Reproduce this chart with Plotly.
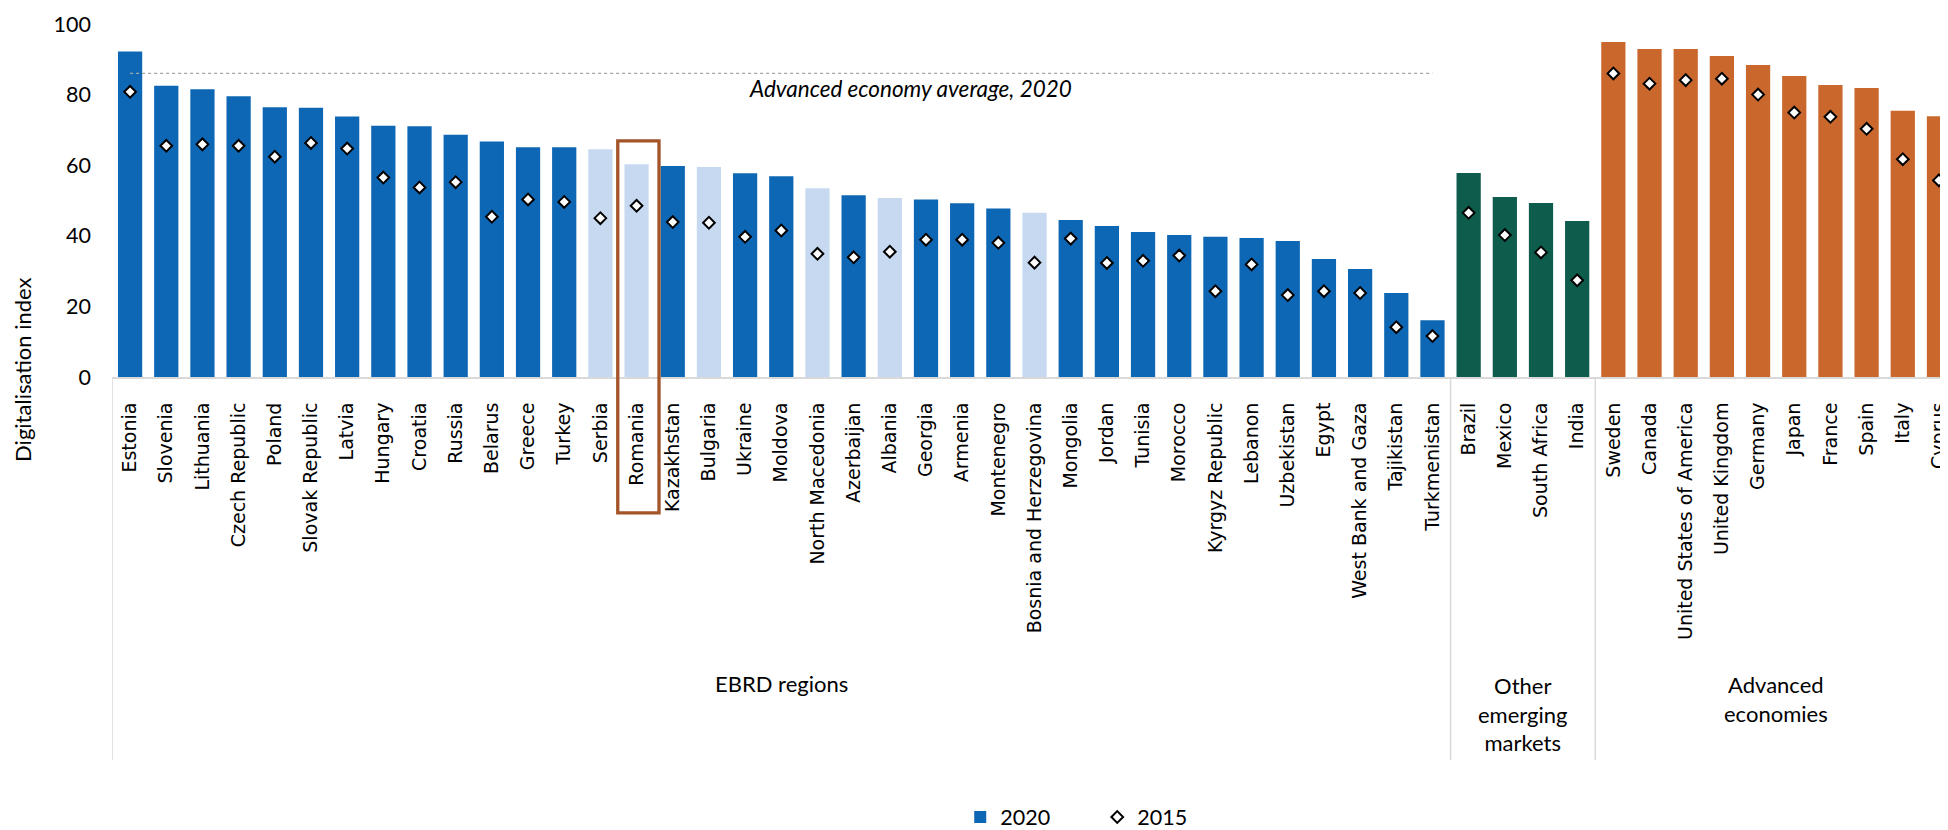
import plotly.graph_objects as go

countries = [
    "Estonia", "Slovenia", "Lithuania", "Czech Republic", "Poland",
    "Slovak Republic", "Latvia", "Hungary", "Croatia", "Russia", "Belarus",
    "Greece", "Turkey", "Serbia", "Romania", "Kazakhstan", "Bulgaria",
    "Ukraine", "Moldova", "North Macedonia", "Azerbaijan", "Albania",
    "Georgia", "Armenia", "Montenegro", "Bosnia and Herzegovina", "Mongolia",
    "Jordan", "Tunisia", "Morocco", "Kyrgyz Republic", "Lebanon", "Uzbekistan",
    "Egypt", "West Bank and Gaza", "Tajikistan", "Turkmenistan",
    "Brazil", "Mexico", "South Africa", "India",
    "Sweden", "Canada", "United States of America", "United Kingdom",
    "Germany", "Japan", "France", "Spain", "Italy", "Cyprus",
]
index_2020 = [
    92.2, 82.5, 81.5, 79.5, 76.4, 76.3, 73.8, 71.2, 71.0, 68.6, 66.7,
    65.1, 65.1, 64.5, 60.3, 59.8, 59.5, 57.7, 56.9, 53.5, 51.5, 50.7,
    50.3, 49.2, 47.7, 46.5, 44.5, 42.8, 41.1, 40.2, 39.7, 39.4, 38.5,
    33.4, 30.6, 23.8, 16.1,
    57.8, 51.0, 49.3, 44.2,
    94.9, 92.9, 92.9, 90.9, 88.4, 85.3, 82.7, 81.9, 75.4, 73.9,
]
index_2015 = [
    80.8, 65.5, 65.9, 65.5, 62.4, 66.3, 64.7, 56.5, 53.7, 55.2, 45.4,
    50.3, 49.6, 45.0, 48.5, 43.9, 43.7, 39.7, 41.5, 34.9, 33.9, 35.5,
    38.9, 38.9, 38.0, 32.4, 39.2, 32.3, 32.9, 34.4, 24.3, 31.9, 23.2,
    24.3, 23.8, 14.1, 11.6,
    46.5, 40.2, 35.3, 27.4,
    86.0, 83.1, 84.1, 84.5, 80.0, 74.9, 73.7, 70.3, 61.7, 55.7,
]
group_names = ["EBRD regions", "Other<br>emerging<br>markets", "Advanced<br>economies"]
group_sizes = [37, 4, 10]
light_countries = ["Serbia", "Romania", "Bulgaria", "North Macedonia", "Albania",
                   "Bosnia and Herzegovina"]
highlighted = "Romania"
adv_avg_2020 = 86.0

DARK_BLUE = "#0D67B5"
LIGHT_BLUE = "#C6D9F0"
GREEN = "#0E5C4C"
ORANGE = "#C9672D"
BROWN = "#A35428"
GREY = "#D9D9D9"
TEXT_FONT = "Lato"
LABEL_FONT = "DejaVu Sans"

# colour of each bar from its group
group_colours = [DARK_BLUE, GREEN, ORANGE]
colours = []
for g, n in enumerate(group_sizes):
    colours += [group_colours[g]] * n
colours = [LIGHT_BLUE if c in light_countries else col for c, col in zip(countries, colours)]

fig = go.Figure()
fig.add_trace(go.Bar(
    x=countries, y=index_2020, name="2020",
    marker={"color": colours, "line": {"width": 0}},
))
fig.add_trace(go.Scatter(
    x=countries, y=index_2015, name="2015", mode="markers",
    marker={"symbol": "diamond", "size": 9, "color": "white",
            "line": {"color": "black", "width": 2}},
))
n_ebrd = group_sizes[0]
fig.add_trace(go.Scatter(
    x=[countries[0], countries[n_ebrd - 1]], y=[adv_avg_2020, adv_avg_2020],
    mode="lines", line={"color": "#A6A6A6", "width": 1.3, "dash": "dot"},
    showlegend=False, hoverinfo="skip",
))

# group dividers and group labels under the axis
bounds = [-0.5]
for n in group_sizes:
    bounds.append(bounds[-1] + n)
shapes = []
for b in bounds[:-1]:
    shapes.append({"type": "line", "xref": "x", "yref": "paper",
                   "x0": b, "x1": b, "y0": 0, "y1": -1.085,
                   "line": {"color": GREY, "width": 1.5}})
ri = countries.index(highlighted)
shapes.append({"type": "rect", "xref": "x", "yref": "paper",
               "x0": ri - 0.52, "x1": ri + 0.62, "y0": -0.385, "y1": 0.669,
               "line": {"color": BROWN, "width": 3.3}})

annotations = []
label_y = [-0.867, -0.955, -0.911]
for g, name in enumerate(group_names):
    annotations.append({
        "text": name, "x": (bounds[g] + bounds[g + 1]) / 2, "y": label_y[g],
        "xref": "x", "yref": "paper", "showarrow": False,
        "xanchor": "center", "yanchor": "middle",
        "font": {"family": TEXT_FONT, "size": 22, "color": "black"},
    })
annotations.append({
    "text": "<i>Advanced economy average, 2020</i>", "x": 21.56, "y": 81.6,
    "xref": "x", "yref": "y", "showarrow": False,
    "font": {"family": TEXT_FONT, "size": 22.5, "color": "black"},
})
annotations.append({
    "text": "Digitalisation index", "x": -0.0485, "y": 0.02,
    "xref": "paper", "yref": "paper", "showarrow": False, "textangle": -90,
    "xanchor": "center", "yanchor": "middle",
    "font": {"family": TEXT_FONT, "size": 22, "color": "black"},
})

# the page body adds an 8px margin, so the figure is 8px smaller than the window
fig.update_layout(
    width=1940,
    height=822,
    margin={"l": 104, "r": 0, "t": 16, "b": 453, "autoexpand": False},
    plot_bgcolor="white",
    paper_bgcolor="white",
    bargap=0.33,
    shapes=shapes,
    annotations=annotations,
    showlegend=True,
    legend={
        "orientation": "h", "x": 0.462, "xanchor": "left",
        "y": -1.2465, "yanchor": "middle",
        "entrywidth": 92, "entrywidthmode": "pixels",
        "font": {"family": TEXT_FONT, "size": 21.5, "color": "black"},
        "traceorder": "normal",
    },
)
fig.update_xaxes(
    range=[-0.5, 50.25],
    showline=True, linecolor=GREY, linewidth=2,
    showgrid=False, zeroline=False, ticks="",
    tickangle=-90, ticklabelstandoff=16, ticklabeloverflow="allow",
    tickfont={"family": LABEL_FONT, "size": 19, "color": "black"},
)
fig.update_yaxes(
    range=[0, 100], tickvals=[0, 20, 40, 60, 80, 100],
    showline=False, showgrid=False, zeroline=False, ticks="",
    ticklabelstandoff=20,
    tickfont={"family": TEXT_FONT, "size": 21.5, "color": "black"},
)

fig.write_html("out.html")
